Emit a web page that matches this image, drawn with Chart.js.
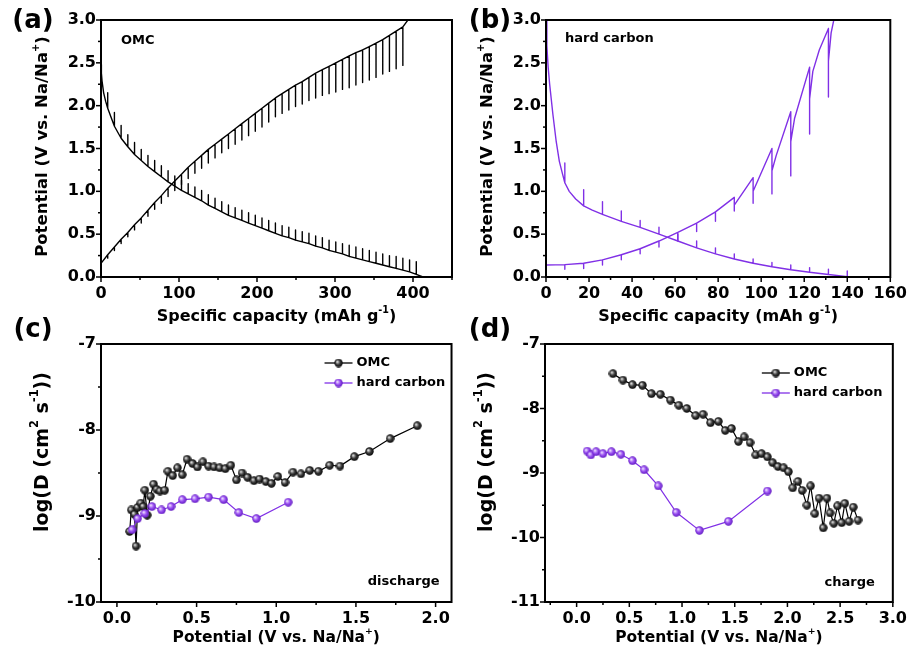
<!DOCTYPE html>
<html>
<head>
<meta charset="utf-8">
<script src="https://cdn.jsdelivr.net/npm/chart.js@4.4.1/dist/chart.umd.min.js"></script>
<style>
  body { margin: 0; background: #fff; }
  #fig { position: relative; width: 914px; height: 653px; overflow: hidden; }
  #fig canvas { position: absolute; }
</style>
</head>
<body>
<div id="fig">
  <canvas id="panelA" width="457" height="335" style="left:0;top:0"></canvas>
  <canvas id="panelB" width="457" height="335" style="left:457px;top:0"></canvas>
  <canvas id="panelC" width="457" height="343" style="left:0;top:310px"></canvas>
  <canvas id="panelD" width="457" height="343" style="left:457px;top:310px"></canvas>
</div>
<script>
// ---- GITT profiles: capacity (mAh/g), closed-circuit voltage, relaxed voltage at each pulse end ----
const omcDisCap = [0, 0.5, 1.3, 3.4, 6.0, 8.6, 17.2, 25.8, 34.4, 43.0, 51.6, 60.2, 68.8, 77.4, 86.0, 94.6, 103.2, 111.8, 120.4, 129.0,
  137.6, 146.2, 154.8, 163.4, 172.0, 180.6, 189.2, 197.8, 206.4, 215.0, 223.6, 232.2, 240.8, 249.4, 258.0, 266.6, 275.2, 283.8,
  292.4, 301.0, 309.6, 318.2, 326.8, 335.4, 344.0, 352.6, 361.2, 369.8, 378.4, 387.0, 395.6, 404.2, 412.8];
const omcDisV = [2.48, 2.38, 2.29, 2.15, 2.05, 1.97, 1.76, 1.62, 1.52, 1.43, 1.36, 1.29, 1.23, 1.17, 1.11, 1.06, 1.01, 0.97, 0.93, 0.89,
  0.84, 0.80, 0.76, 0.72, 0.69, 0.66, 0.63, 0.60, 0.57, 0.54, 0.51, 0.48, 0.46, 0.43, 0.41, 0.39, 0.36, 0.34,
  0.31, 0.29, 0.27, 0.24, 0.22, 0.20, 0.18, 0.16, 0.14, 0.12, 0.10, 0.08, 0.06, 0.03, 0.00];
const omcDisTip = [null, null, null, null, null, 2.15, 1.92, 1.77, 1.66, 1.57, 1.49, 1.42, 1.36, 1.30, 1.24, 1.18, 1.13, 1.09, 1.05, 1.01,
  0.96, 0.92, 0.88, 0.84, 0.81, 0.78, 0.75, 0.72, 0.69, 0.66, 0.63, 0.60, 0.58, 0.55, 0.53, 0.51, 0.48, 0.46,
  0.43, 0.41, 0.39, 0.37, 0.35, 0.33, 0.31, 0.29, 0.27, 0.25, 0.24, 0.22, 0.20, 0.18, null];

const omcChgCap = [0, 8.6, 17.2, 25.8, 34.4, 43.0, 51.6, 60.2, 68.8, 77.4, 86.0, 94.6, 103.2, 111.8, 120.4, 129.0,
  137.6, 146.2, 154.8, 163.4, 172.0, 180.6, 189.2, 197.8, 206.4, 215.0, 223.6, 232.2, 240.8, 249.4, 258.0, 266.6, 275.2, 283.8,
  292.4, 301.0, 309.6, 318.2, 326.8, 335.4, 344.0, 352.6, 361.2, 369.8, 378.4, 387.0, 396.0];
const omcChgV = [0.16, 0.26, 0.35, 0.44, 0.52, 0.61, 0.69, 0.78, 0.87, 0.95, 1.04, 1.12, 1.20, 1.28, 1.35, 1.42,
  1.49, 1.55, 1.61, 1.67, 1.73, 1.79, 1.85, 1.91, 1.97, 2.03, 2.09, 2.14, 2.19, 2.24, 2.28, 2.33, 2.38, 2.42,
  2.46, 2.50, 2.54, 2.58, 2.62, 2.65, 2.69, 2.73, 2.77, 2.82, 2.87, 2.92, 3.03];
const omcChgTip = [null, 0.22, 0.31, 0.39, 0.47, 0.55, 0.63, 0.71, 0.79, 0.86, 0.94, 1.01, 1.08, 1.15, 1.21, 1.27,
  1.33, 1.39, 1.45, 1.50, 1.55, 1.60, 1.65, 1.70, 1.75, 1.81, 1.87, 1.91, 1.95, 1.99, 2.02, 2.06, 2.09, 2.12,
  2.14, 2.16, 2.19, 2.21, 2.24, 2.27, 2.30, 2.33, 2.37, 2.40, 2.43, 2.47, null];

const hcDisCap = [0, 0.4, 1.0, 1.7, 3.2, 4.7, 6.2, 7.7, 8.75, 10.8, 13.8, 17.5, 21.5, 26.25, 35, 43.75, 52.5, 61.25, 70, 78.75,
  87.5, 96.25, 105, 113.75, 122.5, 131.25, 140, 148];
const hcDisV = [3.0, 2.7, 2.45, 2.25, 1.90, 1.59, 1.35, 1.20, 1.10, 1.00, 0.91, 0.83, 0.78, 0.73, 0.65, 0.58, 0.50, 0.42, 0.34, 0.27,
  0.21, 0.16, 0.12, 0.085, 0.055, 0.03, 0.005, 0.0];
const hcDisTip = [null, null, null, null, null, null, null, null, 1.33, null, null, 1.02, null, 0.88, 0.77, 0.66, 0.58, 0.50, 0.42, 0.34,
  0.27, 0.21, 0.17, 0.14, 0.11, 0.09, 0.07, null];

const hcChgCap = [0, 8.75, 17.5, 26.25, 35, 43.75, 52.5, 61.25, 70, 78.75, 87.5, 87.5, 96.25, 96.25, 105, 105, 107, 113.75, 113.75, 115.5,
  122.5, 122.5, 124, 127, 131.25, 131.25, 132.5, 134];
const hcChgV = [0.14, 0.145, 0.16, 0.20, 0.26, 0.33, 0.42, 0.52, 0.63, 0.76, 0.93, 0.84, 1.16, 1.00, 1.50, 1.24, 1.42, 1.93, 1.58, 1.85,
  2.45, 2.08, 2.40, 2.65, 2.90, 2.52, 2.85, 3.03];
const hcChgTip = [null, 0.09, 0.10, 0.14, 0.20, 0.27, 0.35, 0.42, 0.53, 0.65, 0.77, null, 0.86, null, 0.97, null, null, 1.18, null, null,
  1.67, null, null, null, 2.10, null, null, null];

// ---- diffusion coefficients: potential (V) and log D ----
const omcDchPot = [0.08, 0.09, 0.11, 0.12, 0.13, 0.15, 0.165, 0.175, 0.19, 0.21, 0.23, 0.25, 0.27, 0.30, 0.32, 0.35, 0.38, 0.41, 0.44, 0.475,
  0.505, 0.54, 0.575, 0.61, 0.645, 0.68, 0.715, 0.75, 0.785, 0.82, 0.86, 0.895, 0.935, 0.97, 1.01, 1.055, 1.105, 1.155, 1.21, 1.265,
  1.335, 1.40, 1.49, 1.585, 1.715, 1.885];
const omcDchLogD = [-9.18, -8.93, -8.98, -9.35, -8.90, -8.85, -8.89, -8.70, -8.99, -8.77, -8.63, -8.69, -8.71, -8.70, -8.48, -8.53, -8.44, -8.52, -8.34, -8.39,
  -8.43, -8.37, -8.42, -8.43, -8.44, -8.45, -8.41, -8.58, -8.50, -8.55, -8.59, -8.57, -8.60, -8.62, -8.54, -8.61, -8.49, -8.51, -8.47, -8.48,
  -8.41, -8.42, -8.31, -8.25, -8.10, -7.95];
const hcDchPot = [0.095, 0.13, 0.175, 0.22, 0.28, 0.34, 0.41, 0.49, 0.575, 0.67, 0.765, 0.875, 1.075];
const hcDchLogD = [-9.16, -9.03, -8.97, -8.89, -8.93, -8.89, -8.81, -8.80, -8.78, -8.81, -8.96, -9.03, -8.84];

const omcChPot = [0.345, 0.44, 0.53, 0.625, 0.71, 0.795, 0.89, 0.97, 1.045, 1.13, 1.20, 1.27, 1.345, 1.41, 1.47, 1.535, 1.59, 1.645, 1.70, 1.755,
  1.81, 1.86, 1.91, 1.965, 2.01, 2.05, 2.10, 2.14, 2.185, 2.22, 2.26, 2.30, 2.34, 2.375, 2.405, 2.44, 2.475, 2.515, 2.545, 2.585,
  2.625, 2.67];
const omcChLogD = [-7.46, -7.56, -7.63, -7.64, -7.77, -7.78, -7.87, -7.95, -8.00, -8.11, -8.09, -8.22, -8.20, -8.34, -8.31, -8.51, -8.44, -8.53, -8.72, -8.70,
  -8.75, -8.84, -8.90, -8.92, -8.98, -9.23, -9.13, -9.27, -9.50, -9.20, -9.63, -9.39, -9.85, -9.39, -9.62, -9.78, -9.51, -9.77, -9.47, -9.75,
  -9.53, -9.73];
const hcChPot = [0.10, 0.135, 0.185, 0.25, 0.33, 0.42, 0.53, 0.64, 0.775, 0.945, 1.165, 1.44, 1.81];
const hcChLogD = [-8.66, -8.72, -8.67, -8.70, -8.67, -8.71, -8.81, -8.95, -9.20, -9.61, -9.89, -9.75, -9.28];

// ---- axis ticks ----
const capTicksA = [0, 100, 200, 300, 400];
const capTicksB = [0, 20, 40, 60, 80, 100, 120, 140, 160];
const voltTicks = [0, 0.5, 1.0, 1.5, 2.0, 2.5, 3.0];
const potTicksC = [0, 0.5, 1.0, 1.5, 2.0];
const potTicksD = [0, 0.5, 1.0, 1.5, 2.0, 2.5, 3.0];
const logTicksC = [-10, -9, -8, -7];
const logTicksD = [-11, -10, -9, -8, -7];

const PURPLE = '#8030e6';
const FONT = "'DejaVu Sans', sans-serif";

// sawtooth path: each pulse end goes to the relaxed value and back
function gittPath(cap, v, tip) {
  const pts = [];
  cap.forEach((c, i) => {
    pts.push({ x: c, y: v[i] });
    if (tip[i] !== null) {
      pts.push({ x: c, y: tip[i] });
      pts.push({ x: c, y: v[i] });
    }
  });
  return pts;
}
const zip = (xs, ys) => xs.map((x, i) => ({ x, y: ys[i] }));

// shaded ball marker
function ball(light, mid, dark) {
  const s = 9, r = s / 2, c = document.createElement('canvas');
  c.width = s; c.height = s;
  const g = c.getContext('2d');
  const grad = g.createRadialGradient(r - 1.4, r - 1.4, 0.2, r, r, r);
  grad.addColorStop(0, light);
  grad.addColorStop(0.5, mid);
  grad.addColorStop(1, dark);
  g.fillStyle = grad;
  g.beginPath(); g.arc(r, r, r - 0.3, 0, Math.PI * 2); g.fill();
  return c;
}
const blackBall = ball('#eeeeee', '#3a3a3a', '#000');
const purpleBall = ball('#f6ecff', '#9a50f2', '#5b14bb');

function richText(ctx, parts, x, y, size, vertical) {
  const font = s => `bold ${s}px ${FONT}`;
  let w = 0;
  parts.forEach(([t, sup]) => { ctx.font = font(sup ? size * 0.6 : size); w += ctx.measureText(t).width; });
  ctx.save();
  ctx.translate(x, y);
  if (vertical) ctx.rotate(-Math.PI / 2);
  ctx.textBaseline = 'middle';
  ctx.textAlign = 'left';
  let cx = -w / 2;
  parts.forEach(([t, sup]) => {
    ctx.font = font(sup ? size * 0.6 : size);
    ctx.fillText(t, cx, sup ? -size * 0.4 : 0);
    cx += ctx.measureText(t).width;
  });
  ctx.restore();
}

function axisTicks(ctx, scale, area, horizontal) {
  const major = scale.ticks.map(t => t.value);
  const step = major[1] - major[0];
  const mark = (v, len) => {
    const p = scale.getPixelForValue(v);
    ctx.beginPath();
    if (horizontal) { ctx.moveTo(p, area.bottom); ctx.lineTo(p, area.bottom + len); }
    else { ctx.moveTo(area.left, p); ctx.lineTo(area.left - len, p); }
    ctx.stroke();
  };
  major.forEach(v => mark(v, 5));
  for (let v = major[0] - step / 2; v <= scale.max + 1e-9; v += step) {
    if (v >= scale.min - 1e-9) mark(v, 3);
  }
}

// frame, minor ticks, titles, labels and legend
const panelDecor = {
  id: 'panel',
  afterDraw(chart, args, o) {
    const { ctx, chartArea: a, scales } = chart;
    ctx.save();
    ctx.strokeStyle = '#000';
    ctx.fillStyle = '#000';
    ctx.lineWidth = 1.5;
    axisTicks(ctx, scales.x, a, true);
    axisTicks(ctx, scales.y, a, false);
    ctx.lineWidth = 2;
    ctx.strokeRect(a.left, a.top, a.right - a.left, a.bottom - a.top);

    richText(ctx, o.xTitle, (a.left + a.right) / 2, a.bottom + o.xTitleGap, o.xTitleSize, false);
    richText(ctx, o.yTitle, a.left - 58, (a.top + a.bottom) / 2 + o.yTitleShift, o.yTitleSize, true);

    ctx.font = `bold 26px ${FONT}`;
    ctx.textAlign = 'center';
    ctx.textBaseline = 'middle';
    ctx.fillText(o.letter, 33, o.letterY);

    ctx.font = `bold 13px ${FONT}`;
    ctx.textAlign = o.note.align;
    const nx = o.note.align === 'left' ? a.left + o.note.dx : a.right - o.note.dx;
    const ny = o.note.fromTop ? a.top + o.note.dy : a.bottom - o.note.dy;
    ctx.fillText(o.note.text, nx, ny);

    if (o.legend) {
      const lx = a.right - o.legend.dx;
      let ly = a.top + o.legend.dy;
      o.legend.items.forEach(i => {
        const ds = chart.data.datasets[i];
        const img = ds.pointStyle;
        ctx.strokeStyle = ds.borderColor;
        ctx.lineWidth = 1.3;
        ctx.beginPath(); ctx.moveTo(lx, ly); ctx.lineTo(lx + 28, ly); ctx.stroke();
        ctx.drawImage(img, lx + 14 - img.width / 2, ly - img.height / 2);
        ctx.fillStyle = '#000';
        ctx.textAlign = 'left';
        ctx.fillText(ds.label, lx + 32, ly);
        ly += 20;
      });
    }
    ctx.restore();
  }
};

function axis(ticks, min, max, fmt, horizontal, size) {
  return {
    type: 'linear', min, max,
    grid: { display: false, drawTicks: false },
    border: { display: false },
    ticks: {
      font: { family: FONT, weight: 'bold', size: 16 }, color: '#000',
      padding: horizontal ? 7 : 5, autoSkip: false, maxRotation: 0,
      callback: v => fmt(v)
    },
    afterBuildTicks: s => { s.ticks = ticks.map(v => ({ value: v })); },
    afterFit: s => { if (horizontal) s.height = size; else s.width = size; }
  };
}

function panel(id, datasets, cfg) {
  return new Chart(document.getElementById(id), {
    type: 'scatter',
    data: { datasets },
    options: {
      responsive: false, animation: false, devicePixelRatio: 1,
      layout: { padding: { top: cfg.padTop, right: cfg.padRight, left: 0, bottom: 0 } },
      scales: { x: cfg.x, y: cfg.y },
      plugins: { legend: { display: false }, tooltip: { enabled: false }, panel: cfg.decor }
    },
    plugins: [panelDecor]
  });
}

const capTitle = [['Specific capacity (mAh g', 0], ['-1', 1], [')', 0]];
const potTitle = [['Potential (V vs. Na/Na', 0], ['+', 1], [')', 0]];
const logTitle = [['log(D (cm', 0], ['2', 1], [' s', 0], ['-1', 1], ['))', 0]];
const fix1 = v => v.toFixed(1);
const plain = v => String(v);

const gittLine = (data, color) => ({
  data, showLine: true, borderColor: color, borderWidth: 1.4, pointRadius: 0, borderJoinStyle: 'round'
});
const diffLine = (label, data, color, img, order) => ({
  label, data, showLine: true, borderColor: color, borderWidth: 1.2,
  pointStyle: img, pointRadius: 4, order
});

panel('panelA', [
  gittLine(gittPath(omcDisCap, omcDisV, omcDisTip), '#000'),
  gittLine(gittPath(omcChgCap, omcChgV, omcChgTip), '#000')
], {
  padTop: 20, padRight: 5,
  x: axis(capTicksA, 0, 450, plain, true, 58),
  y: axis(voltTicks, 0, 3, fix1, false, 101),
  decor: { xTitle: capTitle, yTitle: potTitle, xTitleSize: 16, yTitleSize: 16.5, xTitleGap: 40, yTitleShift: -2,
    letter: '(a)', letterY: 21,
    note: { text: 'OMC', align: 'left', dx: 20, dy: 21, fromTop: true } }
});

panel('panelB', [
  gittLine(gittPath(hcDisCap, hcDisV, hcDisTip), PURPLE),
  gittLine(gittPath(hcChgCap, hcChgV, hcChgTip), PURPLE)
], {
  padTop: 20, padRight: 16,
  x: axis(capTicksB, 0, 160, plain, true, 58),
  y: axis(voltTicks, 0, 3, fix1, false, 89),
  decor: { xTitle: capTitle, yTitle: potTitle, xTitleSize: 16, yTitleSize: 16.5, xTitleGap: 40, yTitleShift: -2,
    letter: '(b)', letterY: 21,
    note: { text: 'hard carbon', align: 'left', dx: 19, dy: 19, fromTop: true } }
});

panel('panelC', [
  diffLine('OMC', zip(omcDchPot, omcDchLogD), '#000', blackBall, 1),
  diffLine('hard carbon', zip(hcDchPot, hcDchLogD), PURPLE, purpleBall, 0)
], {
  padTop: 34, padRight: 5,
  x: axis(potTicksC, -0.1, 2.1, fix1, true, 51),
  y: axis(logTicksC, -10, -7, plain, false, 101),
  decor: { xTitle: potTitle, yTitle: logTitle, xTitleSize: 15.5, yTitleSize: 19, xTitleGap: 36, yTitleShift: -21,
    letter: '(c)', letterY: 20,
    note: { text: 'discharge', align: 'right', dx: 12, dy: 20, fromTop: false },
    legend: { dx: 127, dy: 19, items: [0, 1] } }
});

panel('panelD', [
  diffLine('OMC', zip(omcChPot, omcChLogD), '#000', blackBall, 1),
  diffLine('hard carbon', zip(hcChPot, hcChLogD), PURPLE, purpleBall, 0)
], {
  padTop: 34, padRight: 16,
  x: axis(potTicksD, -0.3, 3.0, fix1, true, 51),
  y: axis(logTicksD, -11, -7, plain, false, 88),
  decor: { xTitle: potTitle, yTitle: logTitle, xTitleSize: 15.5, yTitleSize: 19, xTitleGap: 36, yTitleShift: -21,
    letter: '(d)', letterY: 20,
    note: { text: 'charge', align: 'right', dx: 18, dy: 19, fromTop: false },
    legend: { dx: 131, dy: 29, items: [0, 1] } }
});
</script>
</body>
</html>
